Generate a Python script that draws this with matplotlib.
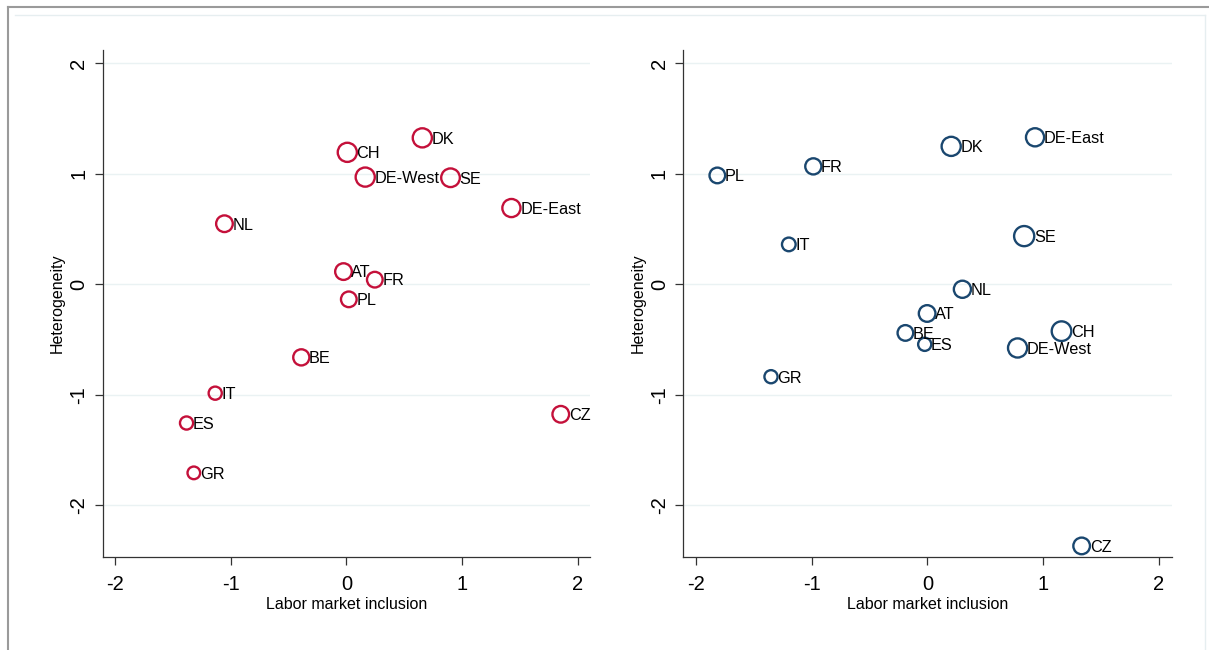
import matplotlib
matplotlib.use('Agg')
import matplotlib.pyplot as plt
from matplotlib import rcParams
from matplotlib.lines import Line2D

rcParams['font.family'] = ['Liberation Sans', 'DejaVu Sans']
rcParams['axes.unicode_minus'] = False

# 左图数据
names_l = ['DK', 'CH', 'DE-West', 'SE', 'DE-East', 'NL', 'AT', 'FR', 'PL', 'BE', 'IT', 'ES', 'GR', 'CZ']
x_l = [0.656, 0.007, 0.162, 0.90, 1.427, -1.056, -0.026, 0.245, 0.02, -0.391, -1.136, -1.384, -1.321, 1.854]
y_l = [1.325, 1.194, 0.97, 0.964, 0.69, 0.548, 0.115, 0.042, -0.136, -0.661, -0.985, -1.255, -1.706, -1.176]
size_l = [21.5, 21.5, 21.5, 21, 20.5, 19, 19, 18, 18, 18.5, 15.5, 15.5, 15, 19]

# 右图数据
names_r = ['PL', 'FR', 'DK', 'DE-East', 'IT', 'SE', 'NL', 'AT', 'BE', 'ES', 'CH', 'DE-West', 'GR', 'CZ']
x_r = [-1.817, -0.987, 0.205, 0.930, -1.199, 0.836, 0.302, -0.003, -0.191, -0.024, 1.159, 0.779, -1.353, 1.333]
y_r = [0.985, 1.067, 1.248, 1.33, 0.361, 0.436, -0.045, -0.264, -0.44, -0.543, -0.424, -0.576, -0.836, -2.367]
size_r = [18, 18.5, 21.5, 20.5, 16, 22.5, 19.5, 19, 18, 15.5, 22, 21.5, 15.5, 19]

ticks = [-2, -1, 0, 1, 2]
red = '#c4103a'
navy = '#1a476f'

fig = plt.figure(figsize=(12.09, 6.5), dpi=100)

# 外框
fig.add_artist(Line2D([8/1209, 1], [1-7/650, 1-7/650], color='#9a9a9a', lw=1.5))
fig.add_artist(Line2D([8/1209, 8/1209], [0, 1-7/650], color='#9a9a9a', lw=1.5))
fig.add_artist(Line2D([15/1209, 1205/1209], [1-15/650, 1-15/650], color='#e6eef0', lw=1))
fig.add_artist(Line2D([1205/1209, 1205/1209], [0, 1-15/650], color='#e6eef0', lw=1))


def draw(ax, names, xs, ys, sizes, col):
    lw = 1.7
    d = [s*0.72 for s in sizes]
    ax.scatter(xs, ys, s=[(v-lw)**2 for v in d], facecolors='none', edgecolors=col,
               linewidths=lw, zorder=3)
    for n, x, y, v in zip(names, xs, ys, d):
        ax.annotate(n, (x, y), xytext=(v/2-1.1, -4.2), textcoords='offset points',
                    ha='left', va='baseline', fontsize=11.7, zorder=4)
    ax.set_xlim(-2.11, 2.11)
    ax.set_ylim(-2.47, 2.12)
    ax.set_xticks(ticks)
    ax.set_yticks(ticks)
    ax.set_yticklabels([str(t) for t in ticks], rotation=90, va='center')
    ax.tick_params(direction='out', length=6, width=0.9, labelsize=14.5, color='#333333')
    ax.tick_params(axis='x', pad=6.5)
    ax.tick_params(axis='y', pad=4.5)
    ax.grid(axis='y', color='#eaf2f3', linewidth=1)
    ax.set_axisbelow(True)
    for s in ['top', 'right']:
        ax.spines[s].set_visible(False)
    for s in ['left', 'bottom']:
        ax.spines[s].set_color('#333333')
        ax.spines[s].set_linewidth(0.9)
    ax.set_xlabel('Labor market inclusion', fontsize=11.5, labelpad=2.5)
    ax.set_ylabel('Heterogeneity', fontsize=11.5, labelpad=3)


f1 = fig.add_axes([0.0849, 0.1426, 0.4034, 0.7805])
draw(f1, names_l, x_l, y_l, size_l, red)
f2 = fig.add_axes([0.5653, 0.1426, 0.4037, 0.7805])
draw(f2, names_r, x_r, y_r, size_r, navy)

fig.savefig('out.png', dpi=100)
